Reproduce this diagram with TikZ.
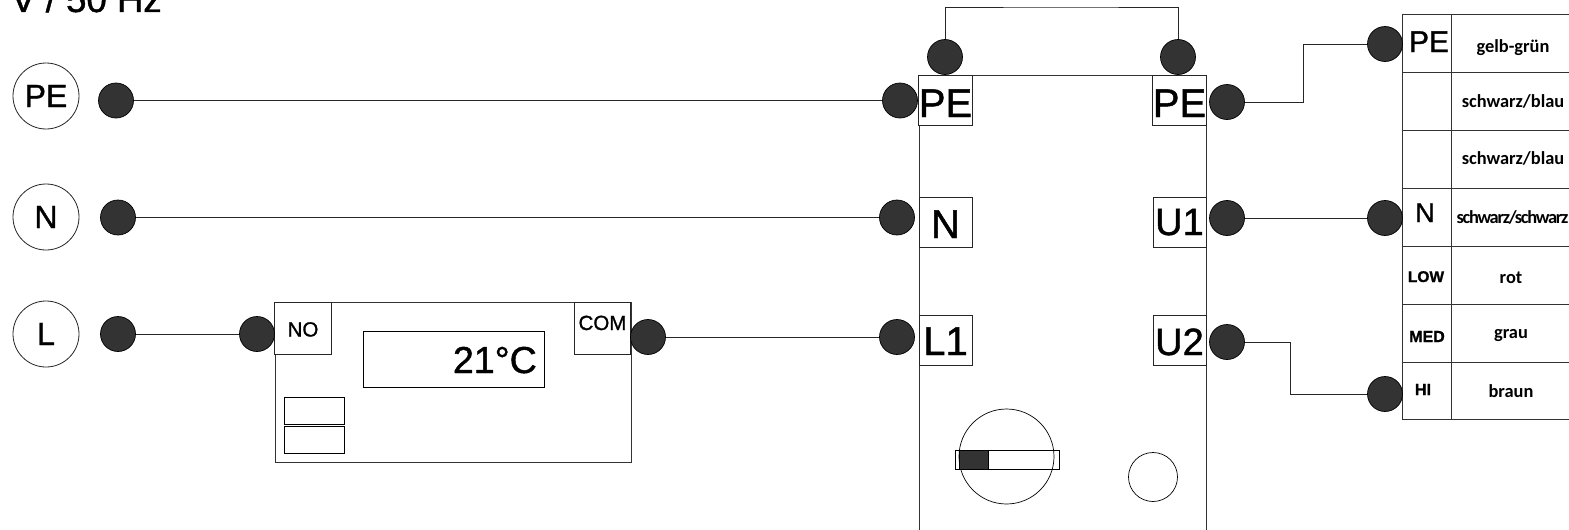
\documentclass[tikz,border=0pt]{standalone}
\usepackage{fontspec}
\setmainfont{Liberation Sans}[FakeBold=1.2]
\newfontfamily\carlito{Carlito}
\usetikzlibrary{calc}
\definecolor{dotgray}{HTML}{333333}

\begin{document}
\begin{tikzpicture}[
    x=1pt, y=-1pt,
    wire/.style={draw=black!85, line width=1pt},
    dot/.style={circle, draw=black, fill=dotgray, minimum size=35pt, inner sep=0pt, line width=0.7pt},
    inlet/.style={circle, draw=black!85, fill=white, minimum size=66pt, inner sep=0pt, line width=0.8pt, font=\fontsize{32pt}{32pt}\selectfont},
    terminal/.style={rectangle, draw=black!85, fill=white, minimum width=53pt, minimum height=50pt, inner sep=0pt, line width=0.9pt, text height=30pt, text depth=0pt, font=\fontsize{40pt}{40pt}\selectfont},
    contact/.style={rectangle, draw=black!85, fill=white, minimum width=56.5pt, minimum height=52pt, inner sep=0pt, line width=0.9pt, font=\fontsize{20.5pt}{20.5pt}\selectfont},
    outline/.style={draw=black!80, line width=1pt},
    plain/.style={draw=black, line width=0.7pt},
    pinlabel/.style={anchor=base, inner sep=0pt},
    colorlabel/.style={anchor=base, inner sep=0pt, font=\carlito\bfseries\fontsize{18.4pt}{18.4pt}\selectfont},
]
    \clip (0,0) rectangle (1569,530);

    \node[anchor=base west, inner sep=0pt, font=\fontsize{36.6pt}{36.6pt}\selectfont] (supply) at (11,12) {V / 50 Hz};

    % mains side
    \node[inlet] (in_pe) at (46,96) {PE};
    \node[inlet] (in_n) at (46,217) {N};
    \node[inlet] (in_l) at (46,334) {L};
    \node[dot] (dot_pe) at (116,100.5) {};
    \node[dot] (dot_n) at (118,217.5) {};
    \node[dot] (dot_l) at (118,334) {};

    % thermostat
    \node[outline, rectangle, minimum width=356pt, minimum height=160pt, inner sep=0pt] (thermo) at (453,382) {};
    \node[contact, text height=17pt, text depth=0pt] (no) at (303,328) {NO};
    \node[contact, text height=4pt, text depth=0pt] (com) at (602.5,328) {COM};
    \node[plain, rectangle, minimum width=181pt, minimum height=56pt, inner sep=0pt] (display) at (453.5,359) {};
    \node[anchor=base east, inner sep=0pt, font=\fontsize{37.5pt}{37.5pt}\selectfont] (temp) at (537,373) {21°C};
    \node[plain, rectangle, minimum width=60pt, minimum height=27pt, inner sep=0pt] (btn_a) at (314,410.5) {};
    \node[plain, rectangle, minimum width=60pt, minimum height=27pt, inner sep=0pt] (btn_b) at (314,439.5) {};
    \node[dot] (dot_no) at (257,334) {};
    \node[dot] (dot_com) at (648,337) {};

    % control module
    \draw[outline] (919,530) -- (919,75) -- (1206,75) -- (1206,530);
    \node[terminal, text height=34pt] (t_pe) at (945.5,100) {PE};
    \node[terminal, text height=32pt] (t_n) at (945.5,222) {N};
    \node[terminal] (t_l) at (945.5,340) {L1};
    \node[terminal, text height=34pt] (t_pe2) at (1179.5,100) {PE};
    \node[terminal, text height=26pt, font=\fontsize{38pt}{38pt}\selectfont] (t_u1) at (1179.5,222) {U1};
    \node[terminal, font=\fontsize{38pt}{38pt}\selectfont] (t_u2) at (1179.5,340) {U2};
    \node[dot] (dot_top_a) at (945,57) {};
    \node[dot] (dot_top_b) at (1178,57) {};
    \node[dot] (dot_t_pe) at (900,100.5) {};
    \node[dot] (dot_t_n) at (897,217.5) {};
    \node[dot] (dot_t_l) at (897,337) {};
    \node[dot] (dot_t_pe2) at (1227,102) {};
    \node[dot] (dot_t_u1) at (1227,218) {};
    \node[dot] (dot_t_u2) at (1227,342) {};

    % selector and lamp
    \node[plain, circle, minimum size=95pt, inner sep=0pt] (dial) at (1006.5,456.5) {};
    \node[plain, rectangle, minimum width=104pt, minimum height=19pt, inner sep=0pt] (slot) at (1007,459.5) {};
    \node[plain, rectangle, fill=dotgray, minimum width=29pt, minimum height=19pt, inner sep=0pt] (knob) at (973.5,459.5) {};
    \node[plain, circle, minimum size=49pt, inner sep=0pt] (lamp) at (1153,477) {};

    % motor table
    \draw[outline] (1575,14) -- (1402,14) -- (1402,419) -- (1575,419);
    \draw[outline] (1451,14) -- (1451,419);
    \foreach \y in {72,130,188,246,304,362}
        \draw[outline] (1402,\y) -- (1575,\y);
    \node[pinlabel, font=\fontsize{30pt}{30pt}\selectfont] (p_pe) at (1429,52) {PE};
    \node[pinlabel, font=\fontsize{27pt}{27pt}\selectfont] (p_n) at (1425,222) {N};
    \node[pinlabel, font=\bfseries\fontsize{15.5pt}{15.5pt}\selectfont] (p_low) at (1426,282) {LOW};
    \node[pinlabel, font=\bfseries\fontsize{16pt}{16pt}\selectfont] (p_med) at (1427,342) {MED};
    \node[pinlabel, font=\bfseries\fontsize{16pt}{16pt}\selectfont] (p_hi) at (1423,395) {HI};
    \foreach \y/\n/\x/\txt in {52/a/1513/{gelb-grün},107/b/1513/{schwarz/blau},164/c/1513/{schwarz/blau},283/e/1511/{rot},338/f/1511/{grau},397/g/1511/{braun}}
        \node[colorlabel] (c_\n) at (\x,\y) {\txt};
    \node[colorlabel] (c_d) at (1512.5,223) {\addfontfeature{LetterSpace=-7}schwarz/schwarz};
    \node[dot] (dot_m_pe) at (1385,44) {};
    \node[dot] (dot_m_n) at (1385,218) {};
    \node[dot] (dot_m_hi) at (1385,394) {};

    \coordinate (link) at (1060,7);
    \coordinate (bend_pe) at (1303,70);
    \coordinate (bend_u2) at (1290,370);

    \draw[wire] (dot_pe) -- (dot_t_pe);
    \draw[wire] (dot_n) -- (dot_t_n);
    \draw[wire] (dot_l) -- (dot_no);
    \draw[wire] (dot_com) -- (dot_t_l);
    \draw[wire] (dot_top_a) |- (link) -| (dot_top_b);
    \draw[wire] (dot_t_pe2) -| (bend_pe) |- (dot_m_pe);
    \draw[wire] (dot_t_u1) -- (dot_m_n);
    \draw[wire] (dot_t_u2) -| (bend_u2) |- (dot_m_hi);
\end{tikzpicture}
\end{document}
